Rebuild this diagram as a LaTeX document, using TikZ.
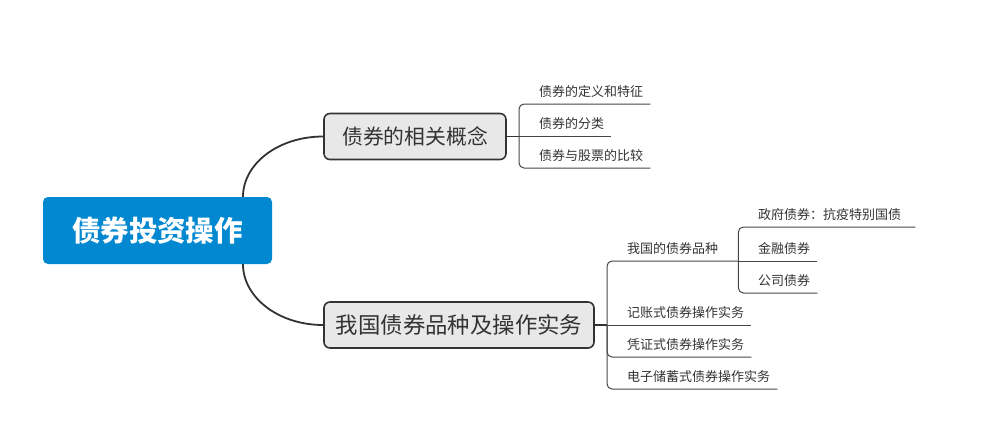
\documentclass[tikz,border=0pt]{standalone}
\usepackage{fontspec}
\setmainfont{Noto Sans CJK SC}
\definecolor{rootblue}{RGB}{2,136,209}
\definecolor{topicfill}{RGB}{232,232,232}
\definecolor{linegrey}{RGB}{51,51,51}
\definecolor{leafgrey}{RGB}{70,70,70}
\definecolor{textgrey}{RGB}{51,51,51}
\begin{document}
\begin{tikzpicture}[x=1pt,y=-1pt,
  rootbox/.style={fill=rootblue, rounded corners=5pt, minimum width=229pt, minimum height=67pt,
    text=white, font=\fontsize{28.5}{32}\selectfont\bfseries, inner sep=0pt},
  topicbox/.style={draw=linegrey, line width=1.6pt, fill=topicfill, rounded corners=6pt,
    minimum height=46pt, text=textgrey, inner sep=0pt},
  leaf/.style={anchor=south west, inner sep=0pt, text height=10pt, text depth=7.5pt,
    text width=#1, align=left, text=textgrey, font=\fontsize{13}{15}\selectfont},
  mainline/.style={draw=linegrey, line width=1.8pt},
  stemline/.style={draw=linegrey, line width=1.3pt},
  leafline/.style={draw=leafgrey, line width=1pt, rounded corners=5pt}
]
\useasboundingbox (0,0) rectangle (989,447);

\node[rootbox] (root) at (157.5,230.5) {债券投资操作};
\node[topicbox, minimum width=182pt, font=\fontsize{20.8}{24}\selectfont] (b1) at (415,136.5) {债券的相关概念};
\node[topicbox, minimum width=270pt, font=\fontsize{22.4}{26}\selectfont] (b2) at (459,325) {我国债券品种及操作实务};

\coordinate (j1) at (519,136.5);
\node[leaf=111pt] (c11) at (539,104) {债券的定义和特征};
\node[leaf=72pt]  (c12) at (539,136.5) {债券的分类};
\node[leaf=111pt] (c13) at (539,168) {债券与股票的比较};

\coordinate (j2) at (607,325);
\node[leaf=111pt] (c21) at (627,261) {我国的债券品种};
\node[leaf=124pt] (c22) at (627,325) {记账式债券操作实务};
\node[leaf=124pt] (c23) at (627,357) {凭证式债券操作实务};
\node[leaf=150pt] (c24) at (627,389) {电子储蓄式债券操作实务};

\node[leaf=157pt] (c211) at (758,227) {政府债券：抗疫特别国债};
\node[leaf=59pt]  (c212) at (758,261) {金融债券};
\node[leaf=59pt]  (c213) at (758,293) {公司债券};

\draw[mainline] ([xshift=85.5pt]root.north) .. controls +(0,-33) and +(-45,0) .. (b1.west);
\draw[mainline] ([xshift=85.5pt]root.south) .. controls +(0,33) and +(-45,0) .. (b2.west);

\draw[stemline] (b1.east) -- (j1);
\draw[leafline] (j1) -- (c12.south east);
\draw[leafline] (j1) |- (c11.south east);
\draw[leafline] (j1) |- (c13.south east);

\draw[stemline] (b2.east) -- (j2);
\draw[leafline] (j2) -- (c22.south east);
\draw[leafline] (j2) |- (c21.south west) -- (c21.south east);
\draw[leafline] (j2) |- (c23.south east);
\draw[leafline] (j2) |- (c24.south east);

\draw[leafline] (c21.south east) -- (c212.south east);
\draw[leafline] (c21.south east) |- (c211.south east);
\draw[leafline] (c21.south east) |- (c213.south east);
\end{tikzpicture}
\end{document}
